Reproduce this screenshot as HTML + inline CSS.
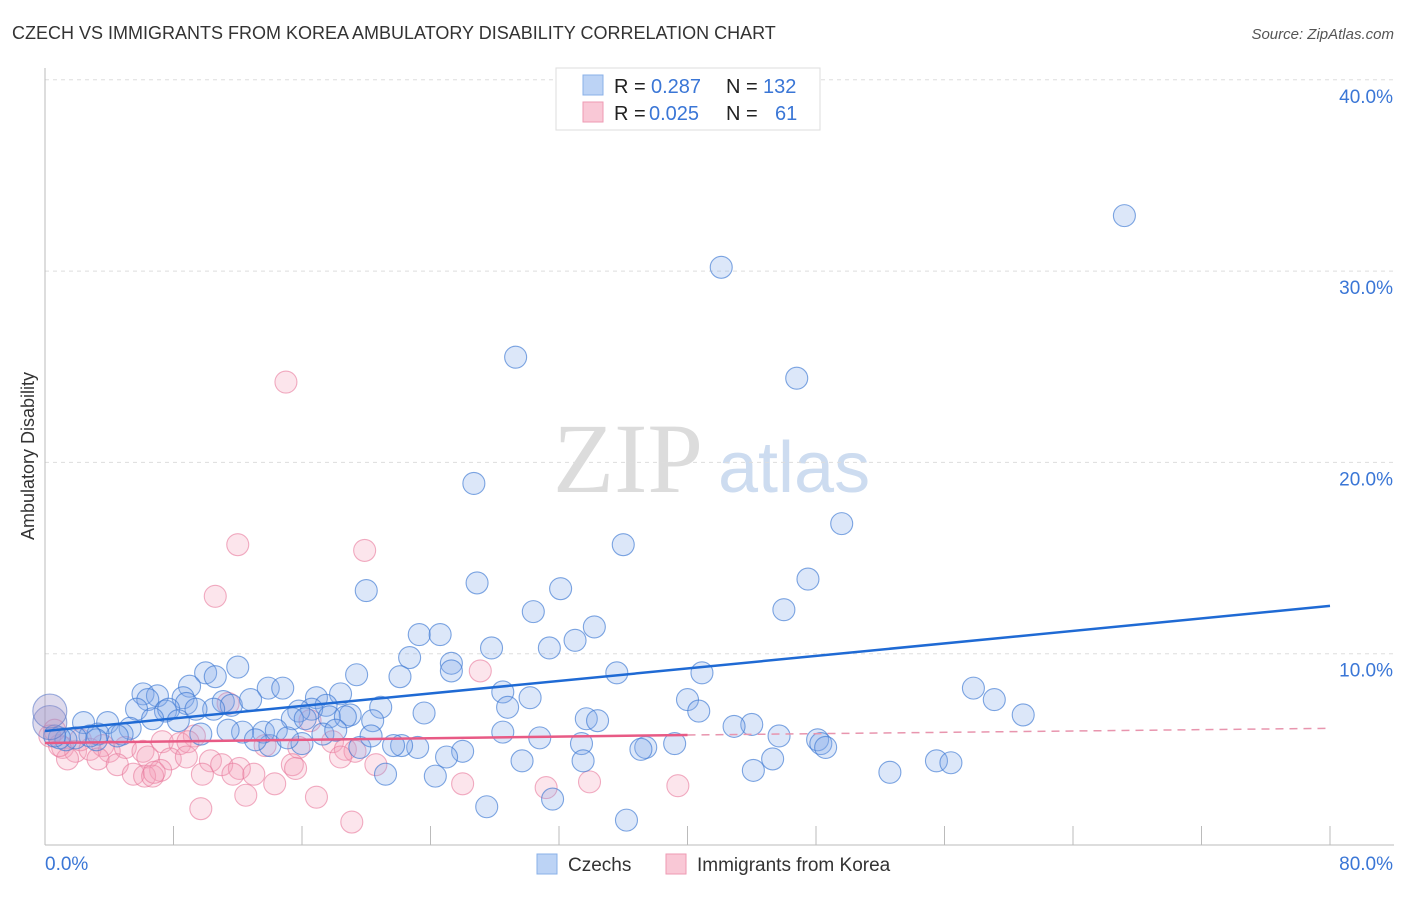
<!DOCTYPE html>
<html><head><meta charset="utf-8"><style>
body{margin:0;background:#fff;font-family:"Liberation Sans",sans-serif;}
svg text{font-family:"Liberation Sans",sans-serif;}
</style></head><body>
<svg id="chart" width="1406" height="892" xmlns="http://www.w3.org/2000/svg">
<text x="12" y="39" font-size="18" fill="#333">CZECH VS IMMIGRANTS FROM KOREA AMBULATORY DISABILITY CORRELATION CHART</text>
<text x="1394" y="39" font-size="15" fill="#555" font-style="italic" text-anchor="end">Source: ZipAtlas.com</text>
<text transform="translate(34,456) rotate(-90)" font-size="18" fill="#333" text-anchor="middle">Ambulatory Disability</text>
<g>
<text x="553" y="492" font-size="100" fill="#dcdcdc" style="font-family:'Liberation Serif',serif">ZIP</text>
<text x="718" y="492" font-size="72" fill="#cddcf0">atlas</text>
</g>
<g id="grid"></g><g id="axes"></g><g id="marks"></g><g id="trend"></g>
<g>
<rect x="556" y="68" width="264" height="62" fill="#fff" stroke="#ddd"/>
<rect x="583" y="75" width="20" height="20" fill="#bcd3f5" stroke="#8ab0e8"/>
<rect x="583" y="102" width="20" height="20" fill="#f9c8d6" stroke="#ee9ab3"/>
<text x="614" y="93" font-size="20" fill="#222">R = </text><text x="651" y="93" font-size="20" fill="#3a76d6">0.287</text>
<text x="726" y="93" font-size="20" fill="#222">N = </text><text x="763" y="93" font-size="20" fill="#3a76d6">132</text>
<text x="614" y="120" font-size="20" fill="#222">R = </text><text x="649" y="120" font-size="20" fill="#3a76d6">0.025</text>
<text x="726" y="120" font-size="20" fill="#222">N = </text><text x="775" y="120" font-size="20" fill="#3a76d6">61</text>
</g>
<g>
<rect x="537" y="854" width="20" height="20" fill="#bcd3f5" stroke="#8ab0e8"/>
<text x="568" y="871" font-size="19" fill="#333">Czechs</text>
<rect x="666" y="854" width="20" height="20" fill="#f9c8d6" stroke="#ee9ab3"/>
<text x="697" y="871" font-size="19" fill="#333">Immigrants from Korea</text>
</g>
</svg>
<script>
const czX=[67.2,42.1,29.3,46.8,26.7,49.6,36.0,47.5,26.9,20.0,32.1,30.4,46.0,34.2,23.3,24.6,33.0,27.8,31.4,22.7,25.3,25.3,35.6,40.9,22.1,19.4,12.0,10.0,10.6,9.0,13.9,14.8,6.1,7.0,6.4,8.6,8.8,11.1,11.6,12.8,16.9,18.4,28.5,30.2,28.8,20.9,17.5,16.6,15.8,15.4,16.2,19.0,17.7,18.7,23.6,10.5,9.4,7.5,7.7,5.7,6.7,8.3,20.4,40.0,40.7,57.8,59.1,60.9,33.7,34.4,44.0,42.9,45.7,48.1,48.3,48.6,30.8,28.5,26.0,33.4,33.5,37.4,37.1,39.2,29.7,25.0,23.2,22.2,21.7,19.6,20.3,17.3,18.1,16.0,14.0,13.6,14.4,15.1,12.3,11.4,13.1,9.7,5.3,3.9,2.4,4.8,4.5,3.3,3.2,2.8,1.9,1.3,0.9,0.6,45.3,44.1,52.6,55.5,56.4,24.3,21.2,27.5,31.6,36.2];
const czY=[32.9,30.2,25.5,24.4,18.9,16.8,15.7,13.9,13.7,13.3,13.4,12.2,12.3,11.4,11.0,11.0,10.7,10.3,10.3,9.8,9.5,9.1,9.0,9.0,8.8,8.9,9.3,9.0,8.8,8.3,8.2,8.2,7.9,7.8,7.6,7.7,7.4,7.5,7.3,7.6,7.7,7.9,8.0,7.7,7.2,7.2,7.3,7.1,7.0,6.6,6.6,6.8,6.7,6.7,6.9,7.1,7.1,7.0,7.1,7.1,6.6,6.5,6.5,7.6,7.0,8.2,7.6,6.8,6.6,6.5,6.3,6.2,5.7,5.5,5.3,5.1,5.6,5.9,4.9,5.3,4.4,5.1,5.0,5.3,4.4,4.6,5.1,5.2,5.2,5.1,5.7,5.8,6.0,5.3,5.2,5.9,6.0,5.6,5.9,6.0,5.5,5.8,6.1,6.4,6.4,5.8,5.7,5.8,5.5,5.7,5.6,5.5,5.6,5.7,4.5,3.9,3.8,4.4,4.3,3.6,3.7,2.0,2.4,1.3];
const czBigX=[0.3,0.3];
const czBigY=[6.4,7.0];
const krX=[15.0,12.0,19.9,10.6,27.1,11.4,16.5,9.3,7.3,8.4,8.9,13.7,15.8,17.9,18.7,19.3,1.1,1.9,2.2,2.8,3.6,4.0,5.0,6.1,1.4,3.3,0.9,0.6,6.4,7.8,8.8,10.3,11.0,12.1,4.5,18.4,20.6,15.4,15.6,7.2,5.5,6.2,6.7,6.8,9.8,11.7,13.0,14.3,12.5,16.9,9.7,19.1,26.0,31.2,33.9,39.4,0.3];
const krY=[24.2,15.7,15.4,13.0,9.1,7.4,6.5,5.7,5.4,5.3,5.4,5.2,5.1,5.4,5.0,4.9,5.1,4.9,5.5,5.0,5.2,4.9,5.1,4.9,4.5,4.5,5.2,6.0,4.6,4.5,4.6,4.4,4.2,4.0,4.2,4.6,4.2,4.2,4.0,3.9,3.7,3.6,3.6,3.8,3.7,3.7,3.7,3.2,2.6,2.5,1.9,1.2,3.2,3.0,3.3,3.1,5.7];
const czTrend=[[0,5.96],[80,12.5]];
const krTrend=[[0,5.33],[40,5.75],[80,6.1]];
const yTicks=[10,20,30,40];
const yTickLabels=["10.0%","20.0%","30.0%","40.0%"];
const xTicks=[0,8,16,24,32,40,48,56,64,72,80];

const NS="http://www.w3.org/2000/svg";
const X=v=>45+v/80*1285;
const Y=v=>845-v*19.13;
function mk(tag,attrs,parent){const e=document.createElementNS(NS,tag);for(const k in attrs)e.setAttribute(k,attrs[k]);document.getElementById(parent).appendChild(e);return e;}
yTicks.forEach((t,i)=>{
  const g=mk('line',{x1:45,x2:1394,y1:Y(t),y2:Y(t),stroke:'#ddd','stroke-dasharray':'4,4'},'grid');
  
  
  const l=mk('text',{x:1393,y:Y(t)+23,'font-size':19,fill:'#3a76d6','text-anchor':'end'},'axes');
  l.textContent=yTickLabels[i];
  
  
});
let ax=mk('line',{x1:45,x2:45,y1:68,y2:845,stroke:'#bbb'},'axes');


ax=mk('line',{x1:45,x2:1394,y1:845,y2:845,stroke:'#bbb'},'axes');


xTicks.forEach(t=>{
  const tk=mk('line',{x1:X(t),x2:X(t),y1:826,y2:845,stroke:'#bbb'},'axes');
  
  
});
let xl=mk('text',{x:45,y:870,'font-size':19,fill:'#3a76d6'},'axes');xl.textContent="0.0%";


xl=mk('text',{x:1393,y:870,'font-size':19,fill:'#3a76d6','text-anchor':'end'},'axes');xl.textContent="80.0%";


krX.forEach((v,i)=>{
  const c=mk('circle',{cx:X(v),cy:Y(krY[i]),r:11,fill:'rgba(244,160,185,0.28)',stroke:'rgba(232,120,155,0.6)','stroke-width':1.1},'marks');
  
  
});
czX.forEach((v,i)=>{
  const c=mk('circle',{cx:X(v),cy:Y(czY[i]),r:11,fill:'rgba(130,170,235,0.28)',stroke:'rgba(60,120,210,0.65)','stroke-width':1.1},'marks');
  
  
});
czBigX.forEach((v,i)=>{
  const c=mk('circle',{cx:X(v),cy:Y(czBigY[i]),r:17,fill:'rgba(160,150,200,0.35)',stroke:'rgba(90,120,200,0.6)','stroke-width':1.1},'marks');
  
  
});
let t=mk('line',{x1:X(czTrend[0][0]),y1:Y(czTrend[0][1]),x2:X(czTrend[1][0]),y2:Y(czTrend[1][1]),stroke:'#1f6ad4','stroke-width':2.5},'trend');


t=mk('line',{x1:X(krTrend[0][0]),y1:Y(krTrend[0][1]),x2:X(krTrend[1][0]),y2:Y(krTrend[1][1]),stroke:'#e85a85','stroke-width':2.5},'trend');


t=mk('line',{x1:X(krTrend[1][0]),y1:Y(krTrend[1][1]),x2:X(krTrend[2][0]),y2:Y(krTrend[2][1]),stroke:'#e895ae','stroke-width':1.5,'stroke-dasharray':'8,6'},'trend');


</script>
</body></html>
